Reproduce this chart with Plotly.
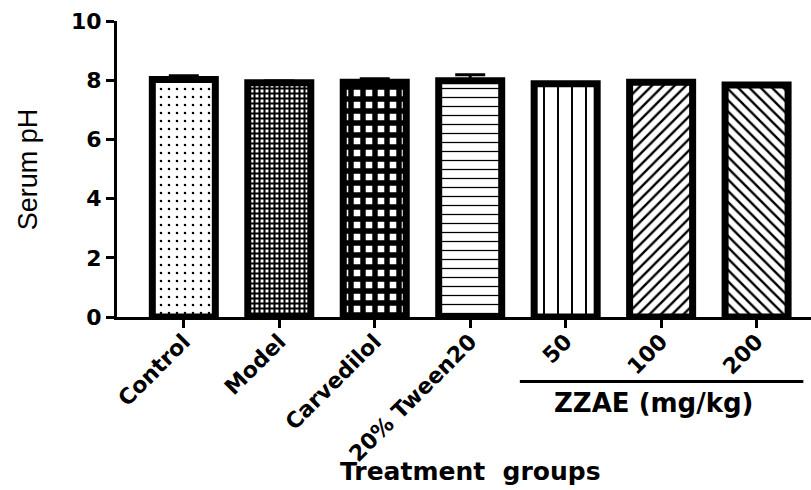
import plotly.graph_objects as go

# Serum pH per treatment group (mean and SEM)
groups = ["Control", "Model", "Carvedilol", "20% Tween20", "50", "100", "200"]
mean_ph = [8.02, 7.91, 7.93, 7.98, 7.88, 7.93, 7.84]
sem_ph = [0.13, 0.06, 0.12, 0.20, 0.04, 0.05, 0.04]

# fill pattern for each group's bar
pattern_shapes = [".", "+", "+", "-", "|", "/", "\\"]
pattern_sizes = [8, 5, 12, 9, 14, 8, 8]
pattern_solidity = [0.08, 0.65, 0.7, 0.14, 0.14, 0.3, 0.3]

y_ticks = [0, 2, 4, 6, 8, 10]
dose_groups = ["50", "100", "200"]

bold = dict(family="DejaVu Sans", color="black", weight="bold")

fig = go.Figure()
fig.add_trace(go.Bar(
    x=list(range(len(groups))),
    y=mean_ph,
    width=0.66,
    marker=dict(
        color="white",
        line=dict(color="black", width=7),
        pattern=dict(
            shape=pattern_shapes,
            size=pattern_sizes,
            solidity=pattern_solidity,
            fgcolor="black",
            bgcolor="white",
            fillmode="replace",
        ),
    ),
    error_y=dict(
        type="data",
        symmetric=False,
        array=sem_ph,
        arrayminus=[0] * len(sem_ph),
        color="black",
        thickness=3,
        width=15,
    ),
    showlegend=False,
))

fig.update_layout(
    width=811,
    height=490,
    margin=dict(l=117, r=0, t=21, b=173),
    paper_bgcolor="white",
    plot_bgcolor="white",
    xaxis=dict(
        range=[-0.70, 6.57],
        tickmode="array",
        tickvals=list(range(len(groups))),
        ticktext=groups,
        tickangle=-45,
        tickfont=dict(size=22, **bold),
        ticklabelstandoff=-8,
        ticks="outside",
        ticklen=8,
        tickwidth=3,
        tickcolor="black",
        showline=True,
        linecolor="black",
        linewidth=3,
        showgrid=False,
        zeroline=False,
    ),
    yaxis=dict(
        range=[0, 10],
        tickvals=y_ticks,
        tickfont=dict(size=22, **bold),
        ticks="outside",
        ticklen=8,
        tickwidth=3,
        tickcolor="black",
        showline=True,
        linecolor="black",
        linewidth=3,
        showgrid=False,
        zeroline=False,
    ),
)

# bracket under the ZZAE dose groups
first_dose = groups.index(dose_groups[0])
last_dose = groups.index(dose_groups[-1])
fig.add_shape(
    type="line",
    xref="x", yref="paper",
    x0=first_dose - 0.48, x1=last_dose + 0.49,
    y0=-0.218, y1=-0.218,
    line=dict(color="black", width=3),
)
fig.add_annotation(
    text="ZZAE (mg/kg)",
    xref="x", yref="paper",
    x=(first_dose + last_dose) / 2 - 0.07, y=-0.29,
    xanchor="center", yanchor="middle",
    showarrow=False,
    font=dict(size=26, **bold),
)

# axis titles
fig.add_annotation(
    text="Treatment\u00a0 groups",
    xref="x", yref="paper",
    x=3, y=-0.522,
    xanchor="center", yanchor="middle",
    showarrow=False,
    font=dict(size=25, **bold),
)
fig.add_annotation(
    text="Serum pH",
    xref="paper", yref="paper",
    x=-0.128, y=0.5,
    xanchor="center", yanchor="middle",
    textangle=-90,
    showarrow=False,
    font=dict(family="Liberation Sans", size=27, color="black"),
)

fig.write_html("out.html")
